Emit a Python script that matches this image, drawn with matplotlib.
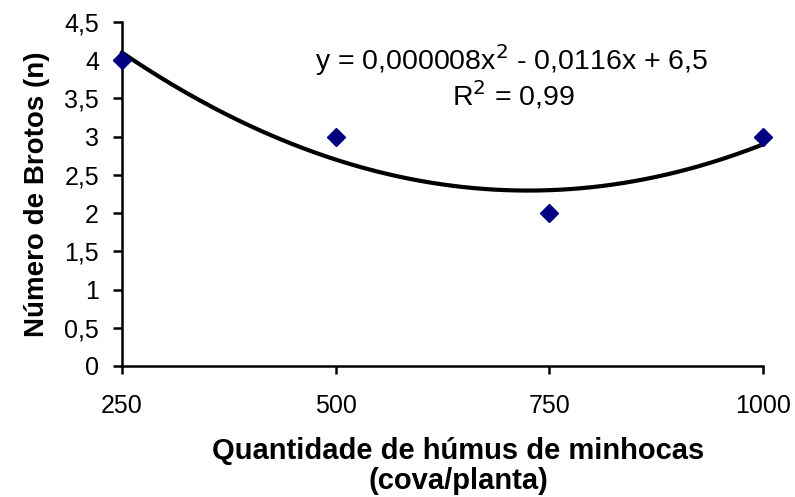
import numpy as np
import matplotlib
matplotlib.use("Agg")
import matplotlib.pyplot as plt

plt.rcParams['font.family'] = ['Liberation Sans', 'DejaVu Sans']

# Data
doses = [250, 500, 750, 1000]
brotos = [4, 3, 2, 3]
x_ticks = [250, 500, 750, 1000]
y_ticks = [0, 0.5, 1, 1.5, 2, 2.5, 3, 3.5, 4, 4.5]
y_tick_labels = ["0", "0,5", "1", "1,5", "2", "2,5", "3", "3,5", "4", "4,5"]
equation = "y = 0,000008x$^2$ - 0,0116x + 6,5"
r2_text = "R$^2$ = 0,99"

fig = plt.figure(figsize=(7.95, 4.97), dpi=100)
ax = fig.add_axes([0.1535, 0.2636, 0.8065, 0.6921])

coef = np.polyfit(doses, brotos, 2)
xs = np.linspace(min(doses), max(doses), 300)
ax.plot(xs, np.polyval(coef, xs), color='black', lw=3, clip_on=False, zorder=2)
ax.plot(doses, brotos, linestyle='none', marker='D', markersize=9.5,
        color='#000080', clip_on=False, zorder=3)

ax.set_xlim(250, 1000)
ax.set_ylim(0, 4.5)
ax.set_xticks(x_ticks)
ax.set_xticklabels([str(v) for v in x_ticks])
ax.set_yticks(y_ticks)
ax.set_yticklabels(y_tick_labels)
ax.spines['top'].set_visible(False)
ax.spines['right'].set_visible(False)
for s in ['left', 'bottom']:
    ax.spines[s].set_linewidth(1.8)
ax.tick_params(axis='y', direction='out', length=6.5, width=1.8, labelsize=18, pad=10)
ax.tick_params(axis='x', direction='out', length=6, width=1.8, labelsize=18, pad=14)

ax.set_ylabel("Número de Brotos (n)", fontsize=20, fontweight='bold', labelpad=10)
ax.set_xlabel("Quantidade de húmus de minhocas\n(cova/planta)", fontsize=21,
              fontweight='bold', labelpad=14, linespacing=1.1)
ax.xaxis.label.set_x(0.524)

ax.text(0.608, 0.89, equation, transform=ax.transAxes, fontsize=20.5, ha='center', va='center')
ax.text(0.61, 0.788, r2_text, transform=ax.transAxes, fontsize=20.5, ha='center', va='center')

fig.savefig("out.png", dpi=100)
